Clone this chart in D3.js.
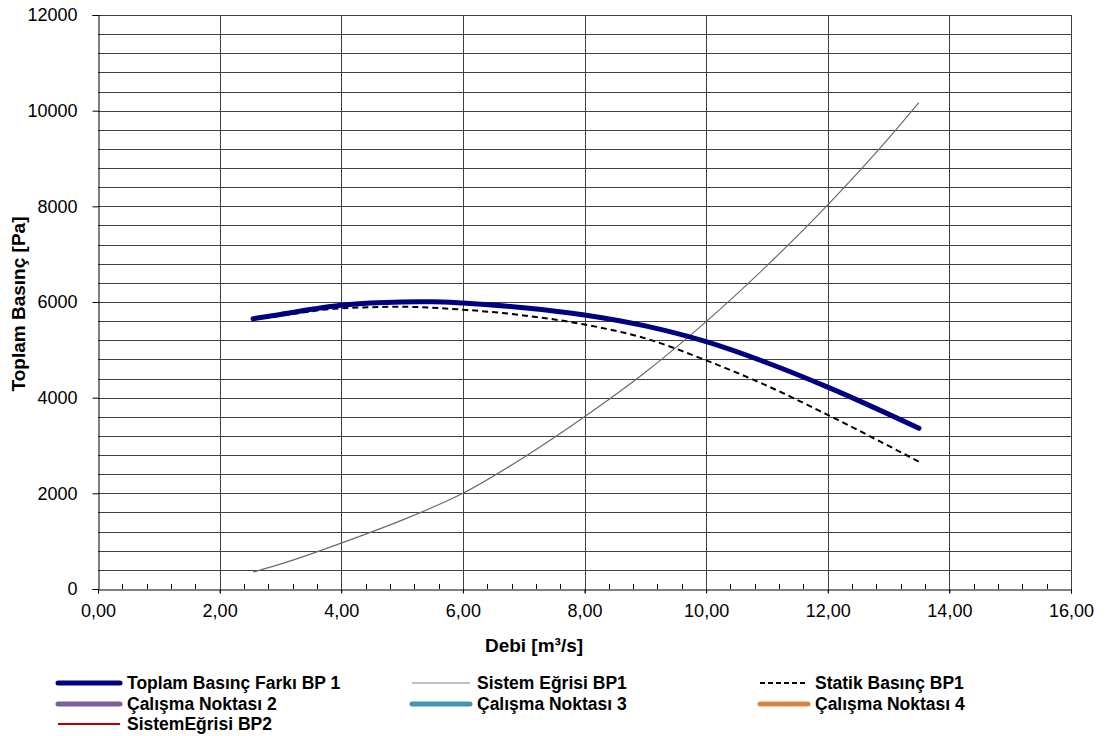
<!DOCTYPE html>
<html>
<head>
<meta charset="utf-8">
<script src="https://cdn.jsdelivr.net/npm/d3@7"></script>
<style>
  body { margin: 0; background: #fff; }
  svg { font-family: "Liberation Sans", Arial, sans-serif; }
</style>
</head>
<body>
<svg id="chart" width="1109" height="736"></svg>
<script>
// values
const toplamQ = [2.55, 3.0, 4.0, 5.0, 5.5, 6.0, 7.0, 8.0, 9.0, 10.0, 11.0, 12.0, 13.5];
const toplamP = [5650, 5740, 5930, 6000, 6005, 5980, 5880, 5730, 5500, 5170, 4730, 4220, 3360];

const statikQ = [2.55, 3.0, 4.0, 5.0, 6.0, 7.0, 8.0, 9.0, 10.0, 11.0, 12.0, 13.5];
const statikP = [5630, 5710, 5870, 5900, 5840, 5720, 5530, 5240, 4780, 4250, 3640, 2660];

const sistemQ = [2.55, 3.0, 4.0, 5.0, 6.0, 7.0, 8.0, 9.0, 10.0, 11.0, 12.0, 13.0, 13.5];
const sistemP = [355, 520, 960, 1440, 2000, 2750, 3600, 4530, 5590, 6760, 8030, 9420, 10170];

const xTicks = [0, 2, 4, 6, 8, 10, 12, 14, 16];
const yTicks = [0, 2000, 4000, 6000, 8000, 10000, 12000];

const legendItems = [
  { label: "Toplam Basınç Farkı BP 1", color: "#000080", width: 5, dash: null },
  { label: "Sistem Eğrisi BP1", color: "#808080", width: 1.2, dash: null },
  { label: "Statik Basınç BP1", color: "#000", width: 2, dash: "5,3" },
  { label: "Çalışma Noktası 2", color: "#7B5E9C", width: 5, dash: null },
  { label: "Çalışma Noktası 3", color: "#3D98B0", width: 5, dash: null },
  { label: "Çalışma Noktası 4", color: "#E0843B", width: 5, dash: null },
  { label: "SistemEğrisi BP2", color: "#C00000", width: 2, dash: null }
];

const svg = d3.select("#chart");
const plotL = 98, plotR = 1071, plotT = 15, plotB = 589;

const x = d3.scaleLinear().domain([0, 16]).range([plotL, plotR]);
const y = d3.scaleLinear().domain([0, 12000]).range([plotB, plotT]);

// horizontal grid every 400
const grid = svg.append("g");
grid.selectAll("line.h")
  .data(d3.range(400, 12001, 400))
  .enter().append("line")
  .attr("x1", plotL).attr("x2", plotR)
  .attr("y1", d => Math.round(y(d)) + 0.5).attr("y2", d => Math.round(y(d)) + 0.5)
  .attr("stroke", "#404040").attr("stroke-width", 1);

// vertical grid at major ticks
grid.selectAll("line.v")
  .data(xTicks.slice(1))
  .enter().append("line")
  .attr("x1", d => Math.round(x(d)) + 0.5).attr("x2", d => Math.round(x(d)) + 0.5)
  .attr("y1", plotT).attr("y2", plotB + 4)
  .attr("stroke", "#404040").attr("stroke-width", 1);

// x axis
const xAxis = svg.append("g")
  .attr("transform", `translate(0,${plotB + 0.5})`)
  .call(d3.axisBottom(x).tickValues(xTicks).tickSize(4).tickPadding(11)
    .tickFormat(d => d3.format(".2f")(d).replace(".", ",")));
xAxis.select(".domain").attr("stroke", "#000");
xAxis.selectAll("text").attr("font-size", 18).attr("fill", "#000");

// minor x ticks inside every 0.4
svg.append("g").selectAll("line")
  .data(d3.range(0, 16.001, 0.4).filter(v => Math.abs(v / 2 - Math.round(v / 2)) > 0.01))
  .enter().append("line")
  .attr("x1", d => Math.round(x(d)) + 0.5).attr("x2", d => Math.round(x(d)) + 0.5)
  .attr("y1", plotB).attr("y2", plotB - 5)
  .attr("stroke", "#000");

// y axis
const yAxis = svg.append("g")
  .attr("transform", `translate(${plotL + 0.5},0)`)
  .call(d3.axisLeft(y).tickValues(yTicks).tickSize(6).tickPadding(15).tickFormat(d3.format("d")));
yAxis.select(".domain").attr("stroke", "#000");
yAxis.selectAll("text").attr("font-size", 18).attr("fill", "#000");

// axis titles
svg.append("text")
  .attr("x", 534).attr("y", 652)
  .attr("text-anchor", "middle").attr("font-size", 19).attr("font-weight", "bold")
  .text("Debi [m³/s]");
svg.append("text")
  .attr("transform", `translate(25,304) rotate(-90)`)
  .attr("text-anchor", "middle").attr("font-size", 19).attr("font-weight", "bold")
  .text("Toplam Basınç [Pa]");

// curves
const line = d3.line().x(d => x(d[0])).y(d => y(d[1])).curve(d3.curveMonotoneX);

svg.append("path")
  .datum(d3.zip(sistemQ, sistemP))
  .attr("d", line).attr("fill", "none")
  .attr("stroke", "#6a6a6a").attr("stroke-width", 1.2);

svg.append("path")
  .datum(d3.zip(statikQ, statikP))
  .attr("d", line).attr("fill", "none")
  .attr("stroke", "#000").attr("stroke-width", 2).attr("stroke-dasharray", "6,4");

svg.append("path")
  .datum(d3.zip(toplamQ, toplamP))
  .attr("d", line).attr("fill", "none")
  .attr("stroke", "#000080").attr("stroke-width", 5).attr("stroke-linecap", "round");

// legend
const colX = [58, 412, 760];
const colLen = [62, 58, 48];
const rowY = [683, 704, 724];
const lg = svg.append("g");
legendItems.forEach((d, i) => {
  const c = i % 3, r = Math.floor(i / 3);
  lg.append("line")
    .attr("x1", colX[c]).attr("x2", colX[c] + colLen[c])
    .attr("y1", rowY[r]).attr("y2", rowY[r])
    .attr("stroke", d.color).attr("stroke-width", d.width)
    .attr("stroke-linecap", d.width > 2 ? "round" : "butt")
    .attr("stroke-dasharray", d.dash);
  lg.append("text")
    .attr("x", colX[c] + colLen[c] + 7).attr("y", rowY[r] + 6)
    .attr("font-size", 17.5).attr("font-weight", "bold")
    .text(d.label);
});
</script>
</body>
</html>
